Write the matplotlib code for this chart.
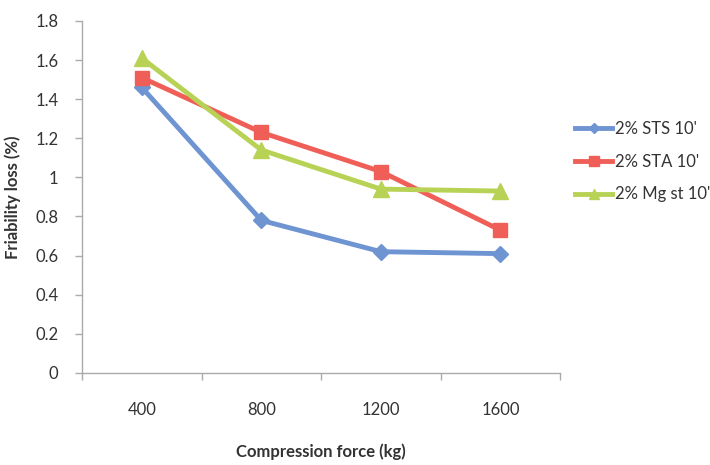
import numpy as np
import matplotlib.pyplot as plt

# Data
force = ["400", "800", "1200", "1600"]
sts = [1.46, 0.78, 0.62, 0.61]
sta = [1.51, 1.23, 1.03, 0.73]
mgst = [1.61, 1.14, 0.94, 0.93]

series_names = ["2% STS 10'", "2% STA 10'", "2% Mg st 10'"]
yticks = [0, 0.2, 0.4, 0.6, 0.8, 1, 1.2, 1.4, 1.6, 1.8]

plt.rcParams["font.family"] = ["Lato", "DejaVu Sans"]

fig = plt.figure(figsize=(7.1, 4.65), dpi=100)
ax = fig.add_axes([0.1155, 0.198, 0.6735, 0.757])

x = np.arange(len(force))
ax.plot(x, sts, color="#6f94d2", lw=3.5, marker="D", ms=8, label=series_names[0])
ax.plot(x, sta, color="#ef5f58", lw=3.5, marker="s", ms=10, label=series_names[1])
ax.plot(x, mgst, color="#b8d256", lw=3.5, marker="^", ms=11, label=series_names[2])

ax.set_xlim(-0.5, len(force) - 0.5)
ax.set_ylim(0, 1.8)
ax.set_yticks(yticks)
ax.set_yticklabels([f"{v:g}" for v in yticks])

# category labels at centres, tick marks at boundaries
ax.set_xticks(np.arange(-0.5, len(force)), labels=[""] * (len(force) + 1))
ax.set_xticks(x, labels=force, minor=True)
ax.tick_params(axis="x", which="major", length=5, color="#aaaaaa", width=1)
ax.tick_params(axis="x", which="minor", length=0, pad=21, labelsize=12, labelcolor="#333333")
ax.tick_params(axis="y", length=5, color="#aaaaaa", width=1, pad=12,
               labelsize=12, labelcolor="#333333")

for side in ["top", "right"]:
    ax.spines[side].set_visible(False)
for side in ["left", "bottom"]:
    ax.spines[side].set_color("#aaaaaa")
    ax.spines[side].set_linewidth(1)

ax.set_ylabel("Friability loss (%)", fontsize=12, fontweight="bold", color="#333333", labelpad=10)
ax.set_xlabel("Compression force (kg)", fontsize=12, fontweight="bold", color="#333333", labelpad=18)

ax.legend(loc="center left", bbox_to_anchor=(1.0, 0.6), frameon=False, fontsize=12,
          handlelength=2.2, labelspacing=1.0, handletextpad=0.2, markerscale=0.7,
          labelcolor="#333333")

fig.savefig("out.png", dpi=100)
